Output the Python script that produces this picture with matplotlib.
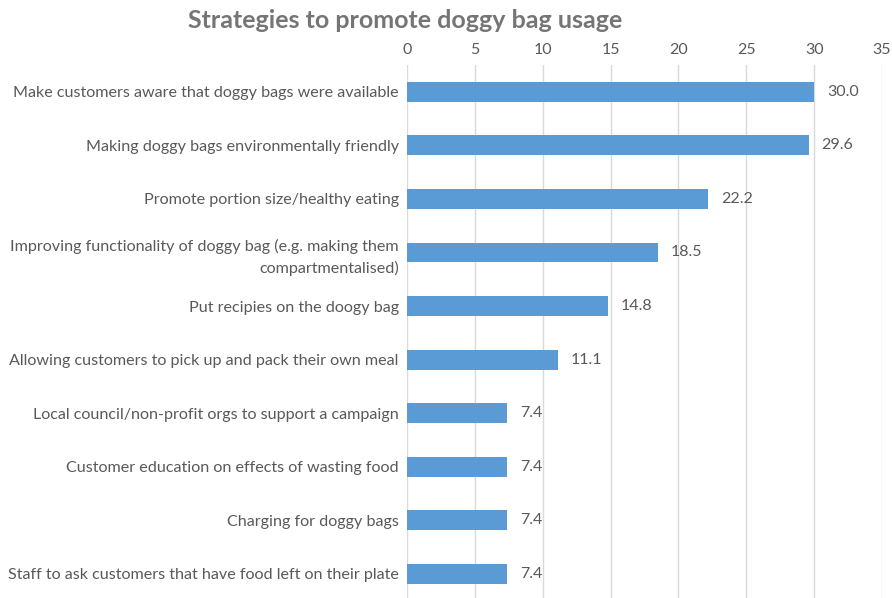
import matplotlib.pyplot as plt

strategies = [
    "Make customers aware that doggy bags were available",
    "Making doggy bags environmentally friendly",
    "Promote portion size/healthy eating",
    "Improving functionality of doggy bag (e.g. making them\ncompartmentalised)",
    "Put recipies on the doogy bag",
    "Allowing customers to pick up and pack their own meal",
    "Local council/non-profit orgs to support a campaign",
    "Customer education on effects of wasting food",
    "Charging for doggy bags",
    "Staff to ask customers that have food left on their plate",
]
percent = [30.0, 29.6, 22.2, 18.5, 14.8, 11.1, 7.4, 7.4, 7.4, 7.4]
x_ticks = [0, 5, 10, 15, 20, 25, 30, 35]

plt.rcParams['font.family'] = ['Lato', 'DejaVu Sans']
text_color = '#595959'

fig = plt.figure(figsize=(8.92, 5.98), dpi=100)
# plot area: x from 407 to 882 px, y from 65 px down to the bottom edge
ax = fig.add_axes([407 / 892, 0, 475 / 892, 533 / 598])

pos = list(range(len(strategies)))
ax.barh(pos, percent, height=0.37, color='#5B9BD5', zorder=3)
for p, v in zip(pos, percent):
    ax.text(v + 0.95, p, f"{v:.1f}", va='center', ha='left',
            fontsize=11.5, color=text_color)

ax.set_xlim(0, 35)
ax.set_ylim(9.45, -0.5)
ax.set_xticks(x_ticks)
ax.xaxis.tick_top()
ax.set_yticks(pos)
ax.set_yticklabels(strategies, fontsize=11.6, color=text_color, ha='right')
for lbl in ax.get_yticklabels():
    lbl.set_linespacing(1.55)
ax.tick_params(axis='x', labelsize=11.5, labelcolor=text_color, length=0, pad=6)
ax.tick_params(axis='y', length=0, pad=6)
ax.grid(axis='x', color='#D9D9D9', linewidth=1, zorder=0)
for s in ax.spines.values():
    s.set_visible(False)

fig.text(405 / 892, 1 - 21 / 598, "Strategies to promote doggy bag usage",
         fontsize=18, fontweight='bold', color='#757575', va='center', ha='center')

fig.savefig('out.png', dpi=100)
